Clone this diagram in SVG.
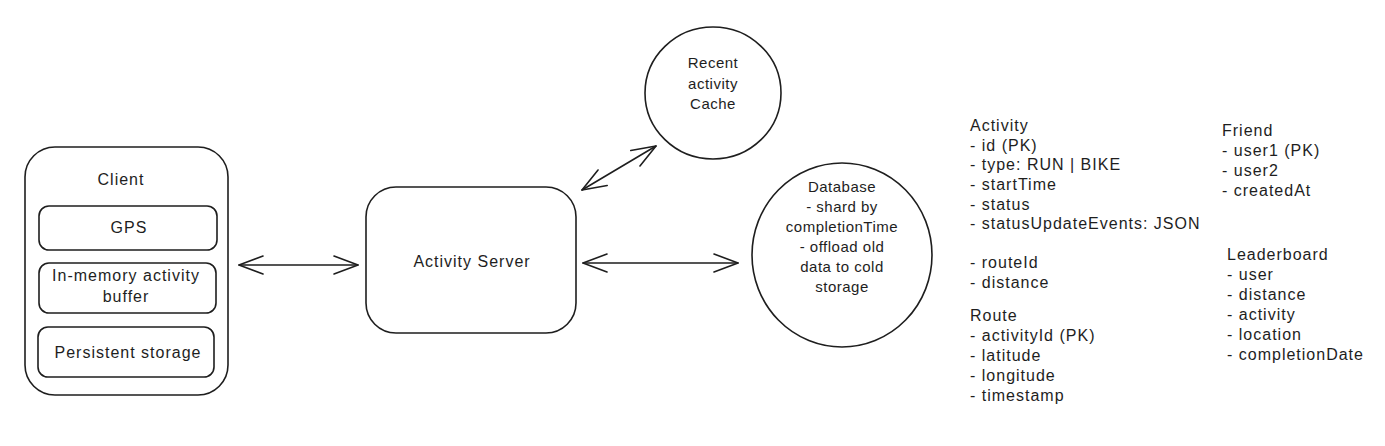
<svg xmlns="http://www.w3.org/2000/svg" width="1385" height="446" viewBox="0 0 1385 446">
<defs>
<style>
.s{fill:none;stroke:#1e1e1e;stroke-width:1.6;stroke-linecap:round;stroke-linejoin:round}
.t{font-family:"Liberation Sans",Arial,sans-serif;font-size:16px;letter-spacing:1px;fill:#1e1e1e}
.n{font-size:15px;letter-spacing:0.5px}
.c{text-anchor:middle}
</style>
<marker id="ah" markerUnits="userSpaceOnUse" viewBox="-26 -11 28 22" refX="0" refY="0" markerWidth="28" markerHeight="22" orient="auto-start-reverse">
<path d="M-24,-9 L0,0 L-24,9" fill="none" stroke="#1e1e1e" stroke-width="1.6" stroke-linecap="round" stroke-linejoin="round"/>
</marker>
</defs>
<rect width="1385" height="446" fill="#ffffff"/>
<g id="client">
<rect class="s" x="25" y="147" width="203" height="248" rx="30"/>
<text class="t c" x="121" y="185">Client</text>
</g>
<g id="gps">
<rect class="s" x="39" y="206" width="178" height="44" rx="10"/>
<text class="t c" x="129" y="233">GPS</text>
</g>
<g id="buffer">
<rect class="s" x="39" y="263" width="177" height="50" rx="10"/>
<text class="t c" x="126" y="281">In-memory activity</text>
<text class="t c" x="126" y="302">buffer</text>
</g>
<g id="storage">
<rect class="s" x="38" y="327" width="176" height="50" rx="10"/>
<text class="t c" x="128" y="358">Persistent storage</text>
</g>
<g id="server">
<rect class="s" x="366" y="187" width="210" height="146" rx="30"/>
<text class="t c" x="472" y="267">Activity Server</text>
</g>
<g id="cache">
<ellipse class="s" cx="713" cy="93" rx="68" ry="66"/>
<text class="t n c" x="713" y="68">Recent</text>
<text class="t n c" x="713" y="89">activity</text>
<text class="t n c" x="713" y="109">Cache</text>
</g>
<g id="database">
<ellipse class="s" cx="842" cy="255" rx="90" ry="92"/>
<text class="t n c" x="842" y="192">Database</text>
<text class="t n c" x="842" y="212">- shard by</text>
<text class="t n c" x="842" y="232">completionTime</text>
<text class="t n c" x="842" y="252">- offload old</text>
<text class="t n c" x="842" y="272">data to cold</text>
<text class="t n c" x="842" y="292">storage</text>
</g>
<g id="activity-schema">
<text class="t" x="970" y="131">Activity</text>
<text class="t" x="970" y="151">- id (PK)</text>
<text class="t" x="970" y="170">- type: RUN | BIKE</text>
<text class="t" x="970" y="190">- startTime</text>
<text class="t" x="970" y="210">- status</text>
<text class="t" x="970" y="229">- statusUpdateEvents: JSON</text>
<text class="t" x="970" y="268">- routeId</text>
<text class="t" x="970" y="288">- distance</text>
</g>
<g id="route-schema">
<text class="t" x="970" y="321">Route</text>
<text class="t" x="970" y="341">- activityId (PK)</text>
<text class="t" x="970" y="361">- latitude</text>
<text class="t" x="970" y="381">- longitude</text>
<text class="t" x="970" y="401">- timestamp</text>
</g>
<g id="friend-schema">
<text class="t" x="1222" y="136">Friend</text>
<text class="t" x="1222" y="156">- user1 (PK)</text>
<text class="t" x="1222" y="176">- user2</text>
<text class="t" x="1222" y="196">- createdAt</text>
</g>
<g id="leaderboard-schema">
<text class="t" x="1227" y="260">Leaderboard</text>
<text class="t" x="1227" y="280">- user</text>
<text class="t" x="1227" y="300">- distance</text>
<text class="t" x="1227" y="320">- activity</text>
<text class="t" x="1227" y="340">- location</text>
<text class="t" x="1227" y="360">- completionDate</text>
</g>
<g id="connectors">
<line class="s" x1="239" y1="265" x2="358" y2="265" marker-start="url(#ah)" marker-end="url(#ah)"/>
<line class="s" x1="583" y1="263" x2="738" y2="263" marker-start="url(#ah)" marker-end="url(#ah)"/>
<line class="s" x1="582" y1="190" x2="656" y2="146" marker-start="url(#ah)" marker-end="url(#ah)"/>
</g>
</svg>
